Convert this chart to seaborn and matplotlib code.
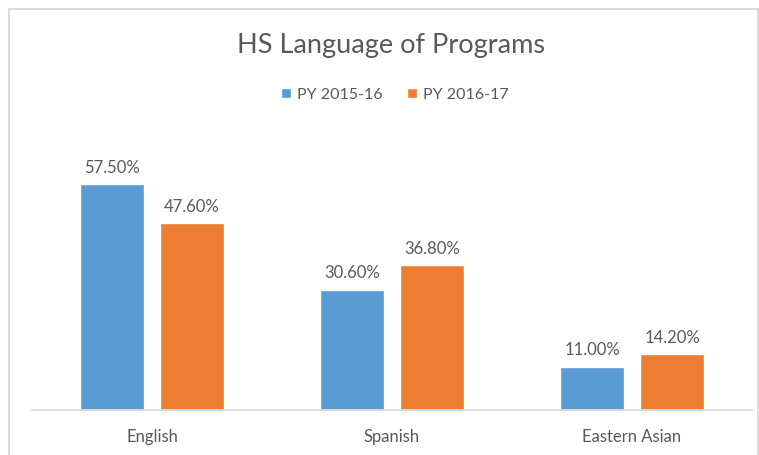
import pandas as pd
import matplotlib.pyplot as plt
from matplotlib.patches import Rectangle
import seaborn as sns

# chart data
CATEGORIES = ["English", "Spanish", "Eastern Asian"]
SERIES = ["PY 2015-16", "PY 2016-17"]
PY_2015_16 = [57.5, 30.6, 11.0]
PY_2016_17 = [47.6, 36.8, 14.2]

BLUE = "#5B9BD5"
ORANGE = "#ED7D31"
TEXT = "#595959"

df = pd.DataFrame({
    "language": CATEGORIES * 2,
    "program_year": [SERIES[0]] * 3 + [SERIES[1]] * 3,
    "pct": PY_2015_16 + PY_2016_17,
})

sns.set_style("white")
plt.rcParams["font.family"] = ["Lato", "DejaVu Sans"]

fig = plt.figure(figsize=(7.59, 4.55), dpi=100)
ax = fig.add_axes([32 / 759, 1 - 410 / 455, 720 / 759, 275 / 455])

sns.barplot(
    data=df, x="language", y="pct", hue="program_year",
    palette=[BLUE, ORANGE], width=0.667, gap=0.21,
    saturation=1, ax=ax, legend=True,
)

for container in ax.containers:
    ax.bar_label(container, fmt="%.2f%%", padding=6, fontsize=12, color=TEXT)

ax.set_ylim(0, 70)
ax.set_xlim(-0.5, 2.5)
ax.set_xlabel("")
ax.set_ylabel("")
ax.set_yticks([])
ax.tick_params(axis="x", length=0, pad=14, labelsize=12, labelcolor=TEXT)
for side in ["top", "left", "right"]:
    ax.spines[side].set_visible(False)
ax.spines["bottom"].set_color("#D9D9D9")
ax.spines["bottom"].set_linewidth(1.3)

ax.legend(
    loc="center", bbox_to_anchor=(395 / 759, 1 - 95 / 455),
    bbox_transform=fig.transFigure, ncol=2, frameon=False,
    fontsize=11.5, labelcolor=TEXT, handlelength=0.6, handleheight=0.6,
    handletextpad=0.4, columnspacing=1.5,
)

fig.text(391 / 759, 1 - 45 / 455, "HS Language of Programs",
         ha="center", va="center", fontsize=19.5, color=TEXT)

# outer chart border
fig.patches.append(Rectangle((9 / 759, -0.05), 749 / 759, 1.05 - 9 / 455,
                             transform=fig.transFigure, fill=False,
                             edgecolor="#D9D9D9", linewidth=1.3))

plt.savefig("out.png", dpi=100)
plt.close()
